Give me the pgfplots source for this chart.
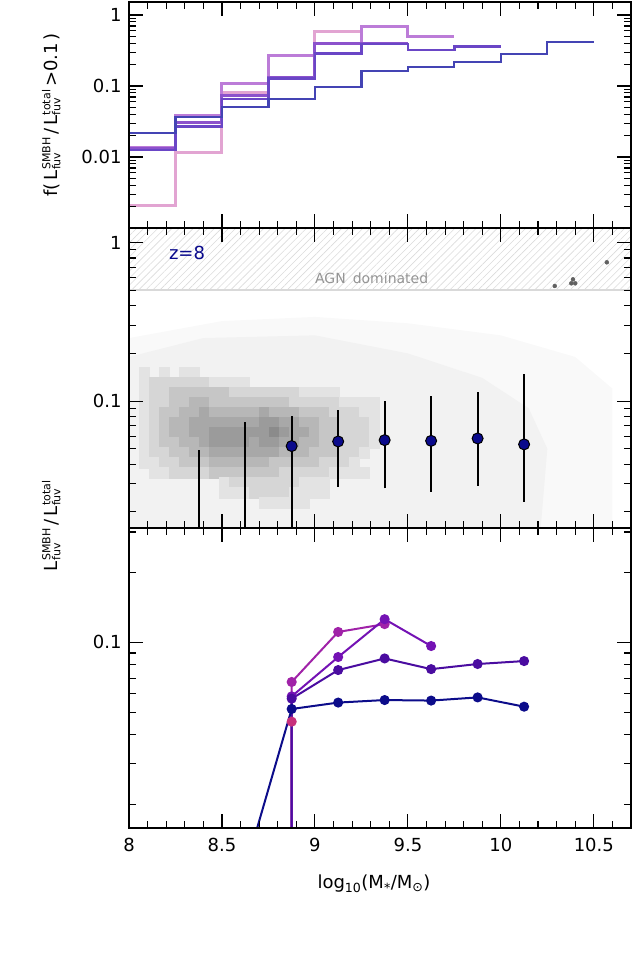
\documentclass[border=0pt]{standalone}
\usepackage{pgfplots}
\pgfplotsset{compat=1.18}
\usepackage{fontspec}
\setmainfont{DejaVu Sans}
\usetikzlibrary{patterns.meta}
\definecolor{tA}{HTML}{4444B4}
\definecolor{tB}{HTML}{6A46C6}
\definecolor{tC}{HTML}{8C52CC}
\definecolor{tD}{HTML}{BC7CD8}
\definecolor{tE}{HTML}{E2A4D2}
\definecolor{bA}{HTML}{0C0C8A}
\definecolor{bB}{HTML}{4A0CA0}
\definecolor{bC}{HTML}{7412B4}
\definecolor{bD}{HTML}{A022A8}
\definecolor{bE}{HTML}{C8307C}
\definecolor{ptnavy}{HTML}{0A0A8C}
\newcommand{\Lst}[1]{L\kern0.5pt$\vcenter{\hbox{\fontsize{11}{12}\selectfont\begin{tabular}{@{}l@{}}#1\\[-2pt]fuv\end{tabular}}}$}
\begin{document}
\begin{tikzpicture}
\useasboundingbox (0pt,0pt) rectangle (634pt,-959pt);
% ---------------- top panel
\begin{axis}[at={(129pt,-228pt)}, anchor=south west, scale only axis, width=502pt, height=226pt,
  xmin=8, xmax=10.7, ymode=log, ymin=0.001, ymax=1.524, axis on top,
  tick align=inside, major tick length=14pt, minor tick length=7pt,
  every tick/.style={black,line width=1.1pt}, axis line style={line width=1.6pt},
  xtick={8,8.5,9,9.5,10,10.5},
  minor xtick={8.1,8.2,8.3,8.4,8.6,8.7,8.8,8.9,9.1,9.2,9.3,9.4,9.6,9.7,9.8,9.9,10.1,10.2,10.3,10.4,10.6},
  xticklabels={}, tick label style={font=\fontsize{18}{20}\selectfont},
  yticklabel style={xshift=-4pt},
  ytick={0.01,0.1,1}, yticklabels={0.01,0.1,1},
  minor ytick={0.002,0.003,0.004,0.005,0.006,0.007,0.008,0.009,0.02,0.03,0.04,0.05,0.06,0.07,0.08,0.09,0.2,0.3,0.4,0.5,0.6,0.7,0.8,0.9}]
\addplot[const plot, tE, line width=3pt] coordinates {(8,0.0021)(8.25,0.0115)(8.5,0.0805)(8.75,0.267)(9.0,0.595)(9.25,0.595)};
\addplot[const plot, tD, line width=3pt] coordinates {(8,0.0135)(8.25,0.039)(8.5,0.109)(8.75,0.267)(9.0,0.391)(9.25,0.685)(9.5,0.495)(9.75,0.495)};
\addplot[const plot, tC, line width=3pt] coordinates {(8,0.0132)(8.25,0.0308)(8.5,0.0739)(8.75,0.131)(9.0,0.391)(9.25,0.391)(9.5,0.391)};
\addplot[const plot, tB, line width=2.6pt] coordinates {(8,0.0125)(8.25,0.0267)(8.5,0.0656)(8.75,0.128)(9.0,0.288)(9.25,0.391)(9.5,0.321)(9.75,0.36)(10.0,0.36)};
\addplot[const plot, tA, line width=2.2pt] coordinates {(8,0.0216)(8.25,0.0362)(8.5,0.05)(8.75,0.0656)(9.0,0.098)(9.25,0.164)(9.5,0.183)(9.75,0.22)(10.0,0.282)(10.25,0.412)(10.5,0.412)};
\end{axis}
% ---------------- middle panel
\begin{axis}[at={(129pt,-528pt)}, anchor=south west, scale only axis, width=502pt, height=300pt,
  xmin=8, xmax=10.7, ymode=log, ymin=0.0158, ymax=1.238, axis on top, clip marker paths=true,
  tick align=inside, major tick length=14pt, minor tick length=7pt,
  every tick/.style={black,line width=1.1pt}, axis line style={line width=1.6pt},
  xtick={8,8.5,9,9.5,10,10.5},
  minor xtick={8.1,8.2,8.3,8.4,8.6,8.7,8.8,8.9,9.1,9.2,9.3,9.4,9.6,9.7,9.8,9.9,10.1,10.2,10.3,10.4,10.6},
  xticklabels={}, tick label style={font=\fontsize{18}{20}\selectfont},
  yticklabel style={xshift=-4pt},
  ytick={0.1,1}, yticklabels={0.1,1},
  minor ytick={0.02,0.03,0.04,0.05,0.06,0.07,0.08,0.09,0.2,0.3,0.4,0.5,0.6,0.7,0.8,0.9},
  colormap={wb}{gray(0cm)=(1); gray(1cm)=(0)}, point meta min=0, point meta max=1]
% scattered-point cloud (faint)
\addplot[draw=none, fill=black!2.5] coordinates {(8,0.01)(8,0.25)(8.5,0.32)(9.0,0.34)(9.5,0.31)(10.0,0.26)(10.4,0.19)(10.6,0.12)(10.6,0.01)};
\addplot[draw=none, fill=black!5] coordinates {(8,0.01)(8,0.19)(8.4,0.25)(9.0,0.26)(9.5,0.2)(9.9,0.14)(10.15,0.09)(10.25,0.05)(10.2,0.01)};
% 2D density map
\addplot[scatter, only marks, mark=square*, mark size=5.1pt, point meta=explicit,
  scatter/use mapped color={draw=mapped color, fill=mapped color},
  restrict expr to domain={\thisrow{c}}{0.05:1}]
 table[row sep=\\, x expr={8.0269+0.05376*mod(\lineno,25)}, y expr={10^(-1.7048+0.0632*(14-floor(\lineno/25)))}, meta=c] {
c\\
0.11\\0\\0.11\\0\\0.11\\0.11\\0\\0\\0\\0\\0\\0\\0\\0\\0\\0\\0\\0\\0\\0\\0\\0\\0\\0\\0\\
0.11\\0.16\\0.16\\0.16\\0.16\\0.16\\0.16\\0.11\\0.11\\0.11\\0.11\\0\\0\\0\\0\\0\\0\\0\\0\\0\\0\\0\\0\\0\\0\\
0.11\\0.16\\0.16\\0.22\\0.22\\0.22\\0.22\\0.22\\0.22\\0.16\\0.16\\0.16\\0.16\\0.16\\0.16\\0.16\\0.11\\0.11\\0.11\\0.11\\0\\0\\0\\0\\0\\
0.11\\0.16\\0.16\\0.22\\0.22\\0.28\\0.28\\0.22\\0.22\\0.22\\0.22\\0.22\\0.22\\0.22\\0.22\\0.16\\0.16\\0.16\\0.16\\0.16\\0.11\\0.11\\0.11\\0.11\\0\\
0.11\\0.16\\0.22\\0.22\\0.28\\0.28\\0.34\\0.28\\0.28\\0.28\\0.28\\0.28\\0.34\\0.28\\0.28\\0.28\\0.22\\0.22\\0.22\\0.16\\0.16\\0.16\\0.11\\0.11\\0\\
0.11\\0.16\\0.22\\0.28\\0.28\\0.34\\0.34\\0.34\\0.34\\0.34\\0.34\\0.34\\0.39\\0.39\\0.34\\0.34\\0.28\\0.28\\0.22\\0.22\\0.16\\0.16\\0.16\\0.11\\0\\
0.11\\0.16\\0.22\\0.28\\0.28\\0.34\\0.34\\0.39\\0.39\\0.39\\0.39\\0.39\\0.39\\0.45\\0.39\\0.34\\0.34\\0.28\\0.22\\0.22\\0.16\\0.16\\0.16\\0.11\\0\\
0.11\\0.16\\0.22\\0.22\\0.28\\0.28\\0.34\\0.39\\0.39\\0.39\\0.39\\0.34\\0.39\\0.39\\0.34\\0.34\\0.28\\0.28\\0.22\\0.22\\0.16\\0.16\\0.16\\0.11\\0\\
0.11\\0.16\\0.16\\0.22\\0.22\\0.28\\0.28\\0.34\\0.34\\0.34\\0.34\\0.34\\0.34\\0.34\\0.28\\0.28\\0.28\\0.22\\0.22\\0.22\\0.16\\0.16\\0.11\\0\\0\\
0.11\\0.11\\0.16\\0.16\\0.22\\0.22\\0.22\\0.28\\0.28\\0.28\\0.28\\0.28\\0.28\\0.22\\0.22\\0.22\\0.22\\0.22\\0.16\\0.16\\0.16\\0.11\\0\\0\\0\\
0\\0.11\\0.11\\0.16\\0.16\\0.16\\0.16\\0.22\\0.22\\0.22\\0.22\\0.22\\0.22\\0.22\\0.16\\0.16\\0.16\\0.16\\0.16\\0.11\\0.11\\0.11\\0.11\\0\\0\\
0\\0\\0\\0\\0\\0\\0\\0\\0.11\\0.16\\0.16\\0.16\\0.16\\0.16\\0.16\\0.16\\0.11\\0.11\\0.11\\0\\0\\0\\0\\0\\0\\
0\\0\\0\\0\\0\\0\\0\\0\\0.11\\0.11\\0.11\\0.16\\0.16\\0.16\\0.16\\0.11\\0.11\\0.11\\0.11\\0\\0\\0\\0\\0\\0\\
0\\0\\0\\0\\0\\0\\0\\0\\0\\0\\0\\0\\0.11\\0.11\\0.11\\0.11\\0.11\\0\\0\\0\\0\\0\\0\\0\\0\\
};
% AGN dominated region
\addplot[draw=none, pattern={Lines[angle=45,distance=5pt,line width=0.6pt]}, pattern color=black!14] coordinates {(8,0.5)(10.7,0.5)(10.7,1.3)(8,1.3)};
\addplot[black!15, line width=2pt] coordinates {(8,0.5)(10.7,0.5)};
\node[anchor=west, text=black!42, font=\fontsize{14}{16}\selectfont, inner sep=0pt] at (axis cs:9.0,0.6) {AGN\hspace{7pt}dominated};
\node[text=ptnavy, font=\fontsize{18}{20}\selectfont] at (axis cs:8.312,0.86) {z=8};
\addplot[only marks, mark=*, mark size=2pt, color=black!62] coordinates {(10.29,0.533)(10.388,0.587)(10.379,0.554)(10.40,0.554)(10.57,0.752)};
% error bars
\addplot[black, line width=2pt, unbounded coords=jump] coordinates {
(8.375,0.001)(8.375,0.049)(8.375,nan)
(8.625,0.001)(8.625,0.0733)(8.625,nan)
(8.875,0.001)(8.875,0.0807)(8.875,nan)
(9.125,0.0287)(9.125,0.0877)(9.125,nan)
(9.375,0.0281)(9.375,0.1)(9.375,nan)
(9.625,0.0267)(9.625,0.1075)(9.625,nan)
(9.875,0.0292)(9.875,0.1135)(9.875,nan)
(10.125,0.0231)(10.125,0.148)};
\addplot[only marks, mark=*, mark size=5.5pt, mark options={fill=ptnavy, draw=black, line width=1pt}] coordinates {
(8.875,0.052)(9.125,0.0556)(9.375,0.0567)(9.625,0.0561)(9.875,0.0581)(10.125,0.0533)};
\end{axis}
% ---------------- bottom panel
\begin{axis}[at={(129pt,-828pt)}, anchor=south west, scale only axis, width=502pt, height=300pt,
  xmin=8, xmax=10.7, ymode=log, ymin=0.0158, ymax=0.312, axis on top,
  tick align=inside, major tick length=14pt, minor tick length=7pt,
  every tick/.style={black,line width=1.1pt}, axis line style={line width=1.6pt},
  xtick={8,8.5,9,9.5,10,10.5},
  minor xtick={8.1,8.2,8.3,8.4,8.6,8.7,8.8,8.9,9.1,9.2,9.3,9.4,9.6,9.7,9.8,9.9,10.1,10.2,10.3,10.4,10.6},
  xticklabels={8,8.5,9,9.5,10,10.5}, tick label style={font=\fontsize{18}{20}\selectfont},
  yticklabel style={xshift=-4pt}, xticklabel style={yshift=-7pt},
  ytick={0.1}, yticklabels={0.1},
  minor ytick={0.02,0.03,0.04,0.05,0.06,0.07,0.08,0.09,0.2,0.3}]
\addplot[bE, line width=2pt, mark=*, mark size=4pt] coordinates {(8.874,0.0001)(8.875,0.0455)};
\addplot[bD, line width=2pt, mark=*, mark size=4pt] coordinates {(8.874,0.0001)(8.875,0.0675)(9.125,0.111)(9.375,0.120)};
\addplot[bC, line width=2pt, mark=*, mark size=4pt] coordinates {(8.874,0.0001)(8.875,0.0585)(9.125,0.0865)(9.375,0.126)(9.625,0.0965)};
\addplot[bB, line width=2pt, mark=*, mark size=4pt] coordinates {(8.874,0.0001)(8.875,0.0572)(9.125,0.0760)(9.375,0.0853)(9.625,0.0767)(9.875,0.0807)(10.125,0.0831)};
\addplot[bA, line width=2pt, mark=*, mark size=4pt] coordinates {(8.625,0.0105)(8.875,0.0516)(9.125,0.0550)(9.375,0.0564)(9.625,0.0561)(9.875,0.0579)(10.125,0.0528)};
\end{axis}
% ---------------- labels
\node[rotate=90, font=\fontsize{18}{20}\selectfont] at (53pt,-115pt) {f(\,\Lst{SMBH}\,/\,\Lst{total}\,>0.1\,)};
\node[rotate=90, font=\fontsize{18}{20}\selectfont] at (53pt,-526pt) {\Lst{SMBH}\,/\,\Lst{total}};
\node[font=\fontsize{18}{20}\selectfont] at (374pt,-884pt) {log\textsubscript{10}(M\textsubscript{*}/M\textsubscript{⊙})};
\end{tikzpicture}
\end{document}
